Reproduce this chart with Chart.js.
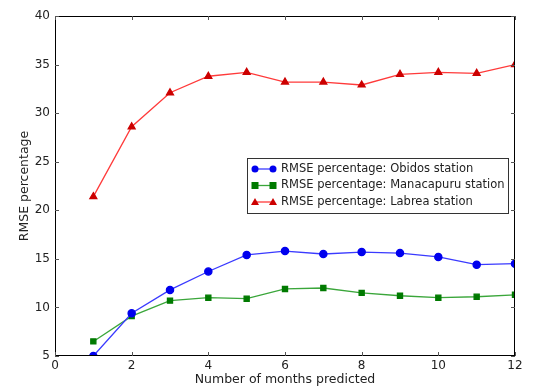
<!DOCTYPE html>
<html>
<head>
<meta charset="utf-8">
<script src="https://cdn.jsdelivr.net/npm/chart.js@4"></script>
<style>
  body { margin: 0; background: #fff; }
  #wrap { width: 534px; height: 388px; }
</style>
</head>
<body>
<div id="wrap"><canvas id="grafico"></canvas></div>
<script>
// dados
const meses = [1, 2, 3, 4, 5, 6, 7, 8, 9, 10, 11, 12];
const obidos = [5.0, 9.4, 11.8, 13.7, 15.4, 15.8, 15.5, 15.7, 15.6, 15.2, 14.4, 14.5];
const manacapuru = [6.5, 9.1, 10.7, 11.0, 10.9, 11.9, 12.0, 11.5, 11.2, 11.0, 11.1, 11.3];
const labrea = [21.4, 28.6, 32.1, 33.8, 34.2, 33.2, 33.2, 32.9, 34.0, 34.2, 34.1, 35.0];
const nomes = ['RMSE percentage: Obidos station', 'RMSE percentage: Manacapuru station', 'RMSE percentage: Labrea station'];

const fonte = 'DejaVu Sans';

function serie(label, valores, linha, ponto, estilo, raio) {
  return {
    label: label,
    data: meses.map((m, i) => ({ x: m, y: valores[i] })),
    borderColor: linha,
    backgroundColor: ponto,
    pointBackgroundColor: ponto,
    pointBorderColor: ponto,
    pointStyle: estilo,
    pointRadius: raio,
    borderWidth: 1.3,
    tension: 0
  };
}

// moldura, ticks internos e legenda estilo matplotlib
const estiloMpl = {
  id: 'estiloMpl',
  afterDraw(chart) {
    const ctx = chart.ctx;
    const a = chart.chartArea;
    const sx = chart.scales.x, sy = chart.scales.y;
    ctx.save();
    ctx.strokeStyle = '#000';
    ctx.lineWidth = 1;
    ctx.strokeRect(a.left + 0.5, a.top + 0.5, a.right - a.left - 1, a.bottom - a.top - 1);
    ctx.strokeStyle = '#555';
    sx.ticks.forEach(t => {
      const px = Math.round(sx.getPixelForValue(t.value)) + 0.5;
      ctx.beginPath();
      ctx.moveTo(px, a.bottom); ctx.lineTo(px, a.bottom - 4);
      ctx.moveTo(px, a.top); ctx.lineTo(px, a.top + 4);
      ctx.stroke();
    });
    sy.ticks.forEach(t => {
      const py = Math.round(sy.getPixelForValue(t.value)) + 0.5;
      ctx.beginPath();
      ctx.moveTo(a.left, py); ctx.lineTo(a.left + 4, py);
      ctx.moveTo(a.right, py); ctx.lineTo(a.right - 4, py);
      ctx.stroke();
    });

    // legenda
    const lx = 247, ly = 158, lw = 261, lh = 55;
    ctx.fillStyle = '#fff';
    ctx.fillRect(lx, ly, lw, lh);
    ctx.strokeStyle = '#333';
    ctx.strokeRect(lx + 0.5, ly + 0.5, lw, lh);
    ctx.font = '11.5px "' + fonte + '"';
    ctx.textBaseline = 'middle';
    chart.data.datasets.forEach((ds, i) => {
      const y = ly + 11 + i * 16.5;
      ctx.strokeStyle = ds.borderColor;
      ctx.lineWidth = 1.3;
      ctx.beginPath();
      ctx.moveTo(lx + 8, y); ctx.lineTo(lx + 26, y);
      ctx.stroke();
      ctx.fillStyle = ds.pointBackgroundColor;
      [lx + 8, lx + 26].forEach(px => {
        ctx.beginPath();
        if (ds.pointStyle === 'circle') {
          ctx.arc(px, y, 3.5, 0, Math.PI * 2);
        } else if (ds.pointStyle === 'rect') {
          ctx.rect(px - 3.5, y - 3.5, 7, 7);
        } else {
          ctx.moveTo(px, y - 4); ctx.lineTo(px + 4, y + 3); ctx.lineTo(px - 4, y + 3); ctx.closePath();
        }
        ctx.fill();
      });
      ctx.fillStyle = '#222';
      ctx.textAlign = 'left';
      ctx.fillText(ds.label, lx + 34, y);
    });
    ctx.restore();
  }
};

const ctx = document.getElementById('grafico').getContext('2d');
new Chart(ctx, {
  type: 'line',
  data: {
    datasets: [
      serie(nomes[0], obidos, '#3a3aff', '#0000ee', 'circle', 3.6),
      serie(nomes[1], manacapuru, '#3aa63a', '#007a00', 'rect', 3.6),
      serie(nomes[2], labrea, '#ff3a3a', '#cc0000', 'triangle', 4)
    ]
  },
  options: {
    responsive: true,
    maintainAspectRatio: false,
    animation: false,
    layout: { padding: { top: 16, right: 19, left: 17, bottom: 0 } },
    plugins: {
      legend: { display: false },
      tooltip: { enabled: false }
    },
    scales: {
      x: {
        type: 'linear',
        min: 0,
        max: 12,
        afterFit: s => { s.height = 32; },
        ticks: { stepSize: 2, color: '#222', font: { family: fonte, size: 12 }, padding: 3 },
        grid: { display: false, drawTicks: false },
        border: { display: false },
        title: { display: true, text: 'Number of months predicted', color: '#222', font: { family: fonte, size: 12.5 }, padding: { top: 0, bottom: 1 } }
      },
      y: {
        min: 5,
        max: 40,
        afterFit: s => { s.width = 38; },
        ticks: { stepSize: 5, color: '#222', font: { family: fonte, size: 12 }, padding: 5 },
        grid: { display: false, drawTicks: false },
        border: { display: false },
        title: { display: true, text: 'RMSE percentage', color: '#222', font: { family: fonte, size: 12.5 }, padding: 0 }
      }
    }
  },
  plugins: [estiloMpl]
});
</script>
</body>
</html>
